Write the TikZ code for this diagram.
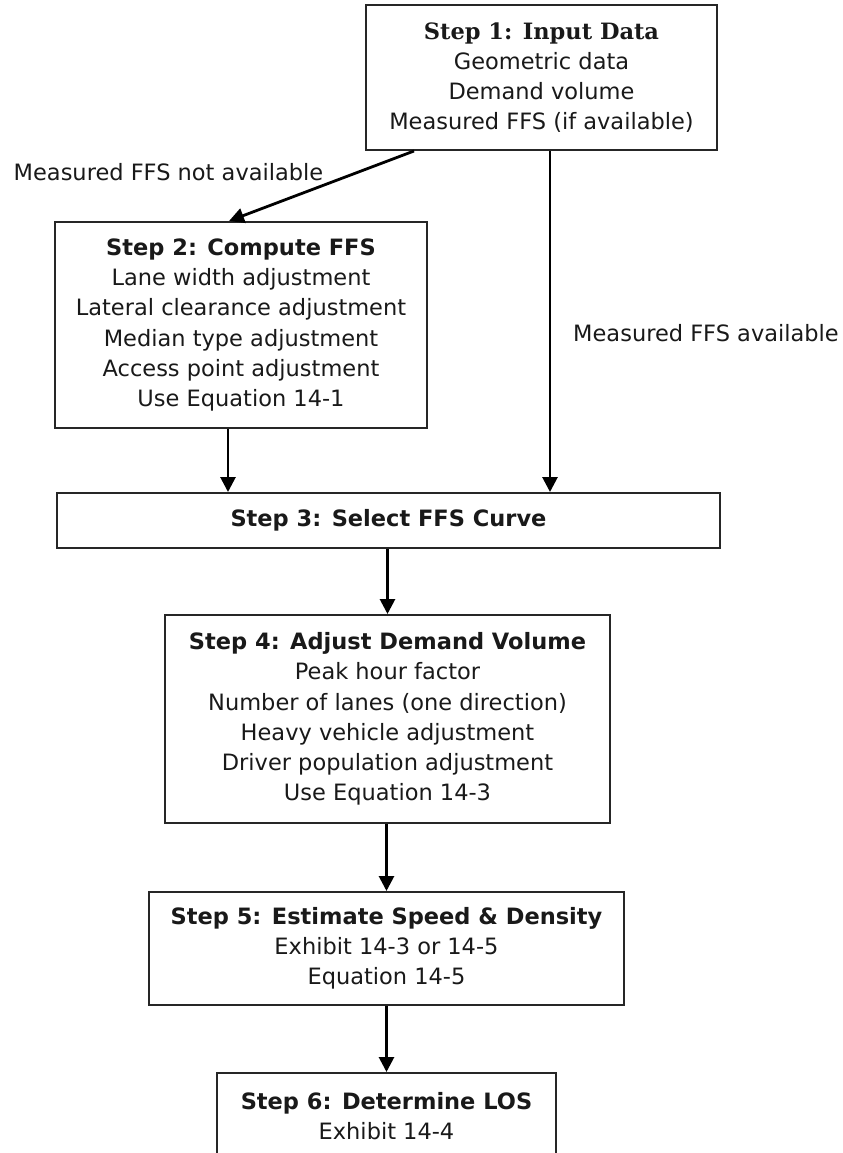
\documentclass[tikz,border=0pt]{standalone}
\usepackage{fontspec}
\setmainfont{DejaVu Sans}
\newfontfamily\stepserif{DejaVu Serif}
\usetikzlibrary{arrows.meta}
\begin{document}
\begin{tikzpicture}[x=1bp,y=-1bp,
  box/.style={draw=black!85, line width=2bp, inner sep=0pt, align=center,
    font=\fontsize{22.5bp}{30.2bp}\selectfont, text=black!90},
  lbl/.style={inner sep=0pt, font=\fontsize{22.5bp}{30.2bp}\selectfont, text=black!90},
  arr/.style={line width=2.8bp, -{Triangle[width=15bp,length=15bp]}}]
\useasboundingbox (0,0) rectangle (843,1153);
\node[box, minimum width=351bp, minimum height=145bp] (s1) at (541.5,77.5)
  {{\stepserif\bfseries Step 1: Input Data}\\Geometric data\\Demand volume\\Measured FFS (if available)};
\node[box, minimum width=372bp, minimum height=206bp] (s2) at (241,325)
  {\textbf{Step 2: Compute FFS}\\Lane width adjustment\\Lateral clearance adjustment\\Median type adjustment\\Access point adjustment\\Use Equation 14-1};
\node[box, minimum width=663bp, minimum height=55bp] (s3) at (388.5,520.5)
  {\textbf{Step 3: Select FFS Curve}};
\node[box, minimum width=445bp, minimum height=208bp] (s4) at (387.5,719)
  {\textbf{Step 4: Adjust Demand Volume}\\Peak hour factor\\Number of lanes (one direction)\\Heavy vehicle adjustment\\Driver population adjustment\\Use Equation 14-3};
\node[box, minimum width=475bp, minimum height=113bp] (s5) at (386.5,948.5)
  {\textbf{Step 5: Estimate Speed \& Density}\\Exhibit 14-3 or 14-5\\Equation 14-5};
\node[box, minimum width=339bp, minimum height=86bp] (s6) at (386.5,1116)
  {\textbf{Step 6: Determine LOS}\\Exhibit 14-4};
\node[lbl] (l1) at (168.5,172) {Measured FFS not available};
\node[lbl] (l2) at (706,333) {Measured FFS available};
\coordinate (a1) at ([xshift=49bp]s1.south west);
\draw[arr] (a1) -- ([xshift=175bp]s2.north west);
\coordinate (a2) at ([xshift=185bp]s1.south west);
\draw[arr] (a2) -- (a2 |- s3.north);
\coordinate (a3) at ([xshift=174bp]s2.south west);
\draw[arr] (a3) -- (a3 |- s3.north);
\draw[arr] (s3.south -| s4.north) -- (s4.north);
\draw[arr] (s4.south -| s5.north) -- (s5.north);
\draw[arr] (s5.south -| s6.north) -- (s6.north);
\end{tikzpicture}
\end{document}
